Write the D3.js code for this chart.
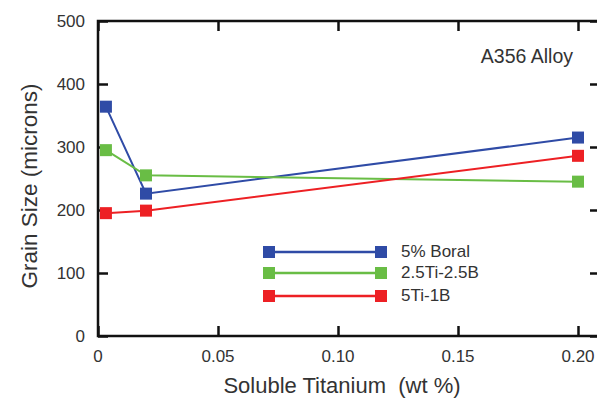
<!DOCTYPE html>
<html lang="en">
<head>
<meta charset="utf-8">
<title>Grain size vs soluble titanium</title>
<script src="https://cdn.jsdelivr.net/npm/d3@7"></script>
<style>
  body { margin: 0; background: #fff; }
  text { font-family: "Liberation Sans", Arial, sans-serif; }
</style>
</head>
<body>
<script>
// soluble Ti (wt %) at which grain size was measured
var titanium = [0.0033, 0.02, 0.2];

// grain size in microns for each grain refiner
var boral = [364, 226, 315];
var tiB25 = [295, 255, 245];
var tiB51 = [195, 199, 286];

var seriesNames = ["5% Boral", "2.5Ti-2.5B", "5Ti-1B"];
var seriesColors = ["#2f4ba6", "#69bd45", "#ed2024"];
var seriesValues = [boral, tiB25, tiB51];

var xTicks = [0, 0.05, 0.10, 0.15, 0.20];
var yTicks = [0, 100, 200, 300, 400, 500];

var w = 597, h = 399;
// plot frame edges (note: "top" is reserved on window, so prefix them)
var padL = 98, padR = 600, padT = 21, padB = 336;

var svg = d3.select("body").append("svg")
  .attr("width", w).attr("height", h);

var x = d3.scaleLinear().domain([0, 0.2]).range([padL, 578]);
var y = d3.scaleLinear().domain([0, 500]).range([padB, padT]);

// inward ticks on all four sides
var tickLen = 10;
var axisColor = "#111";

svg.append("g")
  .attr("transform", "translate(" + padL + ",0)")
  .call(d3.axisRight(y).tickValues(yTicks).tickSize(tickLen).tickFormat(""))
  .call(function(g) { g.select(".domain").remove(); });
svg.append("g")
  .attr("transform", "translate(" + padR + ",0)")
  .call(d3.axisLeft(y).tickValues(yTicks).tickSize(tickLen).tickFormat(""))
  .call(function(g) { g.select(".domain").remove(); });
svg.append("g")
  .attr("transform", "translate(0," + padB + ")")
  .call(d3.axisTop(x).tickValues(xTicks).tickSize(tickLen).tickFormat(""))
  .call(function(g) { g.select(".domain").remove(); });
svg.append("g")
  .attr("transform", "translate(0," + padT + ")")
  .call(d3.axisBottom(x).tickValues(xTicks).tickSize(tickLen).tickFormat(""))
  .call(function(g) { g.select(".domain").remove(); });

svg.selectAll(".tick line").attr("stroke", axisColor).attr("stroke-width", 2.5);

svg.append("rect")
  .attr("x", padL).attr("y", padT)
  .attr("width", padR - padL).attr("height", padB - padT)
  .attr("fill", "none").attr("stroke", axisColor).attr("stroke-width", 2.5);

// tick labels
svg.selectAll(".ylab").data(yTicks).enter().append("text")
  .attr("class", "ylab")
  .attr("x", 85).attr("y", function(d) { return y(d) + 6; })
  .attr("text-anchor", "end").attr("font-size", 17).attr("fill", "#333")
  .text(function(d) { return d; });

svg.selectAll(".xlab").data(xTicks).enter().append("text")
  .attr("class", "xlab")
  .attr("x", function(d) { return x(d); }).attr("y", 362)
  .attr("text-anchor", "middle").attr("font-size", 17).attr("fill", "#333")
  .text(function(d) { return d === 0 ? "0" : d3.format(".2f")(d); });

// axis titles
svg.append("text")
  .attr("x", 342).attr("y", 393)
  .attr("text-anchor", "middle").attr("font-size", 22).attr("fill", "#333")
  .attr("xml:space", "preserve")
  .text("Soluble Titanium  (wt %)");

svg.append("text")
  .attr("transform", "translate(37,186) rotate(-90)")
  .attr("text-anchor", "middle").attr("font-size", 22.5).attr("fill", "#333")
  .text("Grain Size (microns)");

svg.append("text")
  .attr("x", 573).attr("y", 63)
  .attr("text-anchor", "end").attr("font-size", 19.5).attr("fill", "#333")
  .text("A356 Alloy");

// series lines and markers
var line = d3.line()
  .x(function(d, i) { return x(titanium[i]); })
  .y(function(d) { return y(d); });

var ms = 12;
seriesValues.forEach(function(vals, k) {
  svg.append("path")
    .attr("d", line(vals))
    .attr("fill", "none").attr("stroke", seriesColors[k]).attr("stroke-width", 2);
  svg.selectAll(".m" + k).data(vals).enter().append("rect")
    .attr("class", "m" + k)
    .attr("x", function(d, i) { return x(titanium[i]) - ms / 2; })
    .attr("y", function(d) { return y(d) - ms / 2; })
    .attr("width", ms).attr("height", ms)
    .attr("fill", seriesColors[k]);
});

// legend
var legY = [252, 273, 296];
seriesNames.forEach(function(name, k) {
  var g = svg.append("g").attr("transform", "translate(0," + legY[k] + ")");
  g.append("line").attr("x1", 268).attr("x2", 382)
    .attr("stroke", seriesColors[k]).attr("stroke-width", 2.5);
  g.append("rect").attr("x", 263).attr("y", -6).attr("width", 12).attr("height", 12)
    .attr("fill", seriesColors[k]);
  g.append("rect").attr("x", 375).attr("y", -6).attr("width", 12).attr("height", 12)
    .attr("fill", seriesColors[k]);
  g.append("text").attr("x", 401).attr("y", 5)
    .attr("font-size", 17).attr("fill", "#333").text(name);
});
</script>
</body>
</html>
